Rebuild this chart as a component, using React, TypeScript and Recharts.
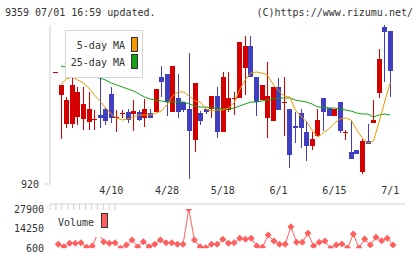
import React from 'react';
import { ComposedChart, Bar, Line, XAxis, YAxis } from 'recharts';

const FONT = '"DejaVu Sans Mono", "Liberation Mono", monospace';
const TEXT = '#333';
const AXIS = '#cfcfcf';
const UP = '#d40000';
const DOWN = '#3f3fbf';
const MA5_COLOR = '#f39800';
const MA25_COLOR = '#14a014';
const VOL_COLOR = '#ff5f5f';

const dates = [
  '3/26', '3/27', '3/30', '3/31', '4/1', '4/2', '4/3', '4/6', '4/7', '4/8',
  '4/10', '4/13', '4/14', '4/15', '4/16', '4/17', '4/20', '4/21', '4/22', '4/24',
  '4/28', '4/30', '5/1', '5/7', '5/8', '5/11', '5/12', '5/13', '5/14', '5/15',
  '5/18', '5/19', '5/20', '5/21', '5/22', '5/25', '5/26', '5/27', '5/28', '5/29',
  '6/1', '6/2', '6/3', '6/4', '6/5', '6/8', '6/9', '6/10', '6/11', '6/12',
  '6/15', '6/16', '6/17', '6/18', '6/19', '6/22', '6/23', '6/24', '6/26', '6/30',
  '7/1',
];
const tickDates = ['4/10', '4/28', '5/18', '6/1', '6/15', '7/1'];

const opens = [
  1032, 1009, 980, 980, 987, 985, 982, 984, 989, 995,
  1010, 986, 990, 992, 990, 992, 986, 991, 992, 1027,
  1030, 992, 1006, 1002, 995, 964, 991, 995, 995, 1008,
  972, 994, 1006, 1006, 1036, 1058, 1027, 1004, 986, 983,
  1017, 1002, 995, 978, 991, 972, 958, 968, 1006, 996,
  988, 1002, 972, 952, 954, 932, 963, 981, 1011, 1077,
  1073,
];
const closes = [
  1032, 1019, 1004, 1019, 1012, 1000, 995, 985, 986, 983,
  986, 987, 991, 984, 993, 984, 995, 986, 1015, 1022,
  1002, 1038, 992, 994, 973, 1021, 983, 992, 1008, 972,
  1027, 1006, 1006, 1062, 1058, 1027, 1002, 1019, 1008, 1017,
  994, 1002, 949, 976, 976, 958, 965, 984, 992, 988,
  995, 973, 972, 945, 950, 963, 960, 984, 1045, 1072,
  1033,
];
const highs = [
  1032, 1019, 1007, 1027, 1017, 1017, 1012, 994, 1026, 997,
  1017, 994, 994, 995, 1004, 994, 1005, 995, 1015, 1038,
  1030, 1038, 1030, 1002, 1051, 1021, 993, 995, 1008, 1017,
  1032, 1032, 1012, 1062, 1068, 1068, 1027, 1019, 1042, 1017,
  1026, 1027, 995, 992, 995, 983, 972, 995, 1006, 996,
  995, 1002, 974, 983, 954, 965, 980, 1004, 1055, 1079,
  1073,
];
const lows = [
  1032, 965, 976, 976, 979, 974, 974, 974, 976, 979,
  981, 972, 986, 981, 973, 983, 977, 986, 992, 1007,
  988, 992, 986, 992, 925, 952, 979, 990, 986, 966,
  972, 992, 989, 1006, 1009, 1027, 988, 1004, 966, 983,
  994, 968, 936, 961, 956, 943, 954, 968, 973, 988,
  988, 971, 964, 945, 950, 930, 960, 981, 1006, 1022,
  1007,
];
const ma5 = [
  null, 1020, 1025, 1027, 1024, 1021, 1016, 1009, 1003, 996,
  990, 986, 984, 985, 987, 989, 989, 989, 991, 993,
  999, 1008, 1012, 1012, 1008, 1003, 1002, 995, 993, 994,
  994, 996, 1001, 1014, 1024, 1031, 1032, 1031, 1029, 1020,
  1013, 1008, 1007, 994, 988, 982, 974, 967, 971, 975,
  981, 985, 986, 984, 974, 966, 961, 963, 982, 1002,
  1021,
];
const ma25 = [
  null, 1038, 1037, 1035, 1033, 1031, 1029, 1027, 1026, 1024,
  1021, 1019, 1017, 1015, 1013, 1010, 1007, 1005, 1004, 1003,
  1002, 1002, 1002, 1002, 1000, 998, 997, 997, 996, 996,
  995, 995, 996, 998, 1000, 1002, 1002, 1003, 1004, 1005,
  1006, 1006, 1006, 1004, 1003, 1002, 1000, 997, 997, 996,
  996, 995, 994, 993, 991, 990, 990, 987, 989, 990,
  989,
];
const volumes = [
  null, 3400, 1700, 4100, 4100, 4500, 1300, 2200, 11200, 5200,
  4100, 4500, 600, 2900, 6400, 1700, 5200, 1700, 3400, 6400,
  4500, 4500, 3400, 3400, 27900, 6400, 1700, 900, 3400, 3400,
  6900, 4100, 4500, 7550, 6900, 7550, 2200, 1300, 9800, 5700,
  3400, 3400, 15600, 4800, 4800, 11000, 2200, 4800, 5700, 600,
  2900, 3600, 800, 10500, 800, 7100, 2900, 8200, 5900, 7550,
  2900,
];

const rows = dates.map((date, i) => ({
  date,
  open: opens[i],
  close: closes[i],
  high: highs[i],
  low: lows[i],
  ma5: ma5[i],
  ma25: ma25[i],
  volume: volumes[i],
}));

const Candle = (props: any) => {
  const { x, y, width, height, payload } = props;
  const { open, close, high, low } = payload;
  const top = Math.min(y, y + height);
  const h = Math.abs(height);
  const perUnit = high === low ? 0 : h / (high - low);
  const yOf = (v: number) => top + (high - v) * perUnit;
  const color = close >= open ? UP : DOWN;
  const cx = Math.round(x + width / 2);
  const bodyTop = yOf(Math.max(open, close));
  const bodyH = Math.max(1, yOf(Math.min(open, close)) - bodyTop);
  return (
    <g>
      {h > 0 && <line x1={cx + 0.5} x2={cx + 0.5} y1={top} y2={top + h} stroke={color} strokeWidth={1} />}
      <rect x={cx - 2} y={bodyTop} width={5} height={bodyH} fill={color} />
    </g>
  );
};

const Diamond = (props: any) => {
  const { cx, cy, value, index } = props;
  if (value == null || cx == null || cy == null) return <g key={index} />;
  const r = 3.5;
  return (
    <polygon
      key={index}
      points={`${cx},${cy - r} ${cx + r},${cy} ${cx},${cy + r} ${cx - r},${cy}`}
      fill={VOL_COLOR}
    />
  );
};

const xPadding = { left: 2.6, right: 12 };
const tickStyle = { fontSize: 10, fill: TEXT, fontFamily: FONT };

const Swatch = ({ left, top, color }: { left: number; top: number; color: string }) => (
  <div
    style={{
      position: 'absolute', left, top, width: 7, height: 15,
      background: color, border: '1px solid #333', boxSizing: 'border-box',
    }}
  />
);

const label = (text: string, style: React.CSSProperties) => (
  <div style={{ position: 'absolute', fontSize: 10, lineHeight: '12px', color: TEXT, whiteSpace: 'pre', ...style }}>
    {text}
  </div>
);

export default function App() {
  return (
    <div style={{ position: 'absolute', left: 0, top: 0, width: 420, height: 259, background: '#fff', fontFamily: FONT, overflow: 'hidden' }}>
      <div style={{ position: 'absolute', left: 0, top: 0 }}>
        <ComposedChart width={420} height={212} data={rows} margin={{ top: 25, right: 15, bottom: 0, left: 0 }}>
          <XAxis
            xAxisId="div"
            type="number"
            domain={[0, 11]}
            ticks={[0, 1, 2, 3, 4, 5, 6, 7, 8, 9, 10, 11]}
            allowDataOverflow
            height={8}
            axisLine={{ stroke: AXIS }}
            tickLine={{ stroke: AXIS }}
            tickSize={6}
            tickFormatter={() => ''}
          />
          <XAxis
            dataKey="date"
            height={20}
            padding={xPadding}
            ticks={tickDates}
            interval={0}
            axisLine={false}
            tickLine={false}
            tickSize={0}
            tickMargin={3}
            tick={tickStyle}
          />
          <YAxis
            width={50}
            domain={[920, 1079]}
            ticks={[920]}
            allowDataOverflow
            axisLine={{ stroke: AXIS }}
            tickLine={{ stroke: AXIS }}
            tickSize={5}
            tickMargin={6}
            tick={tickStyle}
          />
          <Line dataKey="ma25" stroke={MA25_COLOR} strokeWidth={1} dot={false} isAnimationActive={false} />
          <Line dataKey="ma5" stroke={MA5_COLOR} strokeWidth={1} dot={false} isAnimationActive={false} />
          <Bar dataKey={(d: any) => [d.low, d.high]} barSize={5} shape={Candle} isAnimationActive={false} />
        </ComposedChart>
      </div>

      <div style={{ position: 'absolute', left: 0, top: 200 }}>
        <ComposedChart width={420} height={59} data={rows} margin={{ top: 9, right: 15, bottom: 10.7, left: 0 }}>
          <XAxis dataKey="date" hide padding={xPadding} />
          <YAxis
            width={50}
            domain={[600, 27900]}
            ticks={[600, 14250, 27900]}
            allowDataOverflow
            axisLine={false}
            tickLine={false}
            tickSize={0}
            tickMargin={6}
            tick={tickStyle}
          />
          <Line dataKey="volume" stroke={VOL_COLOR} strokeWidth={1} dot={Diamond} isAnimationActive={false} />
        </ComposedChart>
      </div>

      {label('9359 07/01 16:59 updated.', { left: 5, top: 7 })}
      {label('(C)https://www.rizumu.net/', { right: 7, top: 7 })}

      <div style={{ position: 'absolute', left: 65, top: 30, width: 78, height: 48, background: '#fff', border: '1px solid #d4d4d4', boxSizing: 'border-box' }} />
      {label('5-day MA', { right: 295, top: 40 })}
      {label('25-day MA', { right: 295, top: 57 })}
      <Swatch left={131} top={37} color={MA5_COLOR} />
      <Swatch left={131} top={54} color={MA25_COLOR} />

      <div style={{ position: 'absolute', left: 55, top: 210, width: 56, height: 26.5, background: '#fff' }} />
      {label('Volume', { left: 58, top: 217 })}
      <Swatch left={101} top={213} color={VOL_COLOR} />
    </div>
  );
}
